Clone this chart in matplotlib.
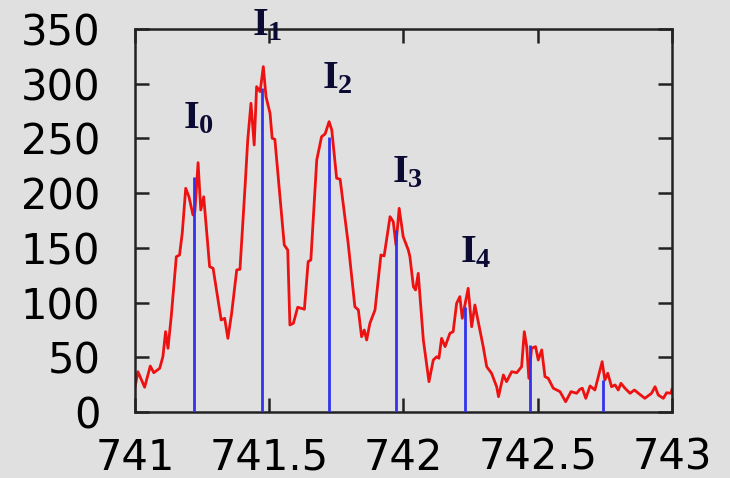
import matplotlib
matplotlib.use('Agg')
import matplotlib.pyplot as plt

# measured spectrum (wavelength, intensity)
wavelength = [741.000, 741.011, 741.036, 741.057, 741.070, 741.092, 741.104, 741.114, 741.123, 741.135,
              741.154, 741.166, 741.176, 741.189, 741.201, 741.216, 741.223, 741.235, 741.245, 741.256,
              741.278, 741.291, 741.321, 741.334, 741.346, 741.360, 741.379, 741.391, 741.410, 741.420,
              741.432, 741.444, 741.453, 741.466, 741.478, 741.488, 741.503, 741.511, 741.521, 741.556,
              741.569, 741.577, 741.590, 741.606, 741.631, 741.645, 741.655, 741.677, 741.695, 741.708,
              741.723, 741.733, 741.751, 741.764, 741.794, 741.819, 741.832, 741.844, 741.854, 741.863,
              741.875, 741.894, 741.916, 741.928, 741.950, 741.962, 741.972, 741.984, 741.999, 742.018,
              742.024, 742.037, 742.045, 742.055, 742.074, 742.095, 742.111, 742.124, 742.132, 742.142,
              742.155, 742.173, 742.185, 742.198, 742.210, 742.219, 742.241, 742.254, 742.266, 742.297,
              742.310, 742.328, 742.347, 742.354, 742.372, 742.384, 742.403, 742.422, 742.440, 742.450,
              742.459, 742.467, 742.477, 742.492, 742.502, 742.515, 742.527, 742.539, 742.558, 742.583,
              742.604, 742.624, 742.645, 742.657, 742.666, 742.679, 742.695, 742.713, 742.732, 742.740,
              742.750, 742.761, 742.775, 742.788, 742.800, 742.810, 742.825, 742.844, 742.860, 742.875,
              742.899, 742.924, 742.937, 742.949, 742.968, 742.980, 742.996, 743.000]
intensity = [22.6, 36.8, 22.6, 42.0, 35.9, 39.9, 50.5, 73.4, 58.2, 87.1,
             141.9, 143.5, 163.3, 204.4, 196.7, 180.0, 183.0, 227.8, 184.6, 196.7,
             132.8, 131.3, 84.1, 85.6, 67.3, 90.2, 129.8, 130.4, 205.9, 248.6,
             282.1, 244.0, 297.3, 292.7, 315.6, 288.1, 273.0, 250.1, 249.2, 152.6,
             148.0, 79.5, 81.1, 95.7, 93.9, 137.4, 138.9, 230.3, 251.6, 254.0,
             265.3, 257.7, 213.6, 212.7, 154.2, 96.2, 93.2, 68.8, 74.9, 65.8,
             81.1, 93.2, 143.5, 142.6, 178.5, 173.9, 152.6, 186.1, 160.2, 148.0,
             141.9, 114.5, 111.5, 126.7, 65.8, 27.7, 47.5, 50.5, 49.1, 67.3,
             59.7, 71.9, 73.4, 99.3, 105.4, 85.6, 113.0, 77.9, 97.8, 59.7,
             41.4, 35.4, 23.1, 14.0, 33.8, 27.7, 36.8, 35.9, 41.4, 73.4,
             59.7, 30.8, 58.2, 59.7, 47.5, 56.7, 32.3, 30.8, 21.7, 18.6,
             9.4, 18.6, 17.1, 20.7, 21.7, 12.5, 23.8, 20.1, 38.4, 46.0,
             29.2, 35.4, 23.1, 24.7, 20.1, 26.2, 21.7, 17.1, 20.1, 17.1,
             12.5, 17.1, 23.1, 15.5, 12.5, 17.6, 17.1, 20.7]

# calculated line positions and strengths
line_pos = [741.220, 741.473, 741.722, 741.971, 742.229, 742.470, 742.742]
line_int = [215, 296, 251, 166, 96, 61, 29]

# peak labels
label_text = [r'$\mathrm{I}_{0}$', r'$\mathrm{I}_{1}$', r'$\mathrm{I}_{2}$',
              r'$\mathrm{I}_{3}$', r'$\mathrm{I}_{4}$']
label_x = [741.179, 741.436, 741.696, 741.957, 742.210]
label_y = [259.5, 344.5, 296.1, 210.2, 136.4]

bg = '#e0e0e0'
plt.rcParams['mathtext.fontset'] = 'custom'
plt.rcParams['mathtext.rm'] = 'Liberation Serif:bold'
plt.rcParams['mathtext.it'] = 'Liberation Serif:bold'
plt.rcParams['mathtext.bf'] = 'Liberation Serif:bold'

fig = plt.figure(figsize=(7.3, 4.78), dpi=100, facecolor=bg)
ax = fig.add_axes([0.1849, 0.1381, 0.7356, 0.8013], facecolor=bg)

ax.plot(wavelength, intensity, color='#ee1111', lw=2.0, zorder=2)
ax.vlines(line_pos, 0, line_int, color='#3333ee', lw=2.0, zorder=3)

for t, x, y in zip(label_text, label_x, label_y):
    ax.text(x, y, t, fontsize=29, color='#0a0a33', ha='left', va='baseline',
            clip_on=False)

ax.set_xlim(741, 743)
ax.set_ylim(0, 350)
ax.set_xticks([741, 741.5, 742, 742.5, 743])
ax.set_xticklabels(['741', '741.5', '742', '742.5', '743'])
ax.set_yticks(range(0, 351, 50))

ax.tick_params(direction='in', length=10, width=1.8, top=True, right=True,
               labelsize=30, color='#222222')
ax.tick_params(axis='y', pad=25)
ax.tick_params(axis='x', pad=18)
for lbl in ax.get_xticklabels() + ax.get_yticklabels():
    lbl.set_family('DejaVu Sans')
for s in ax.spines.values():
    s.set_linewidth(1.8)
    s.set_color('#222222')

fig.savefig('out.png', dpi=100, facecolor=bg)
